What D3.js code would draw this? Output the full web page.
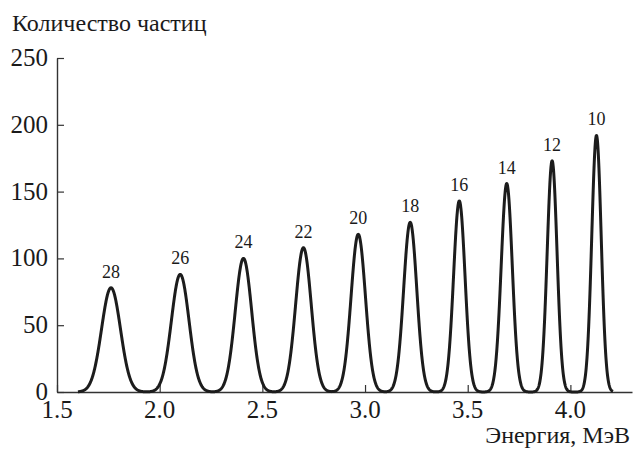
<!DOCTYPE html>
<html>
  <head>
    <meta charset="utf-8">
    <script src="https://d3js.org/d3.v7.min.js"></script>
    <style>
      body { margin: 0; background: #fff; }
    </style>
  </head>
  <body>
    <div id="my_chart"></div>
    <script>
        // peaks
        var peakLabels  = ["28", "26", "24", "22", "20", "18", "16", "14", "12", "10"];
        var peakEnergy  = [1.763, 2.100, 2.408, 2.700, 2.967, 3.220, 3.459, 3.690, 3.911, 4.127];
        var peakCounts  = [78, 88, 100, 108, 118, 127, 143, 156, 173, 192];
        var peakSigma   = [0.046, 0.043, 0.040, 0.038, 0.035, 0.032, 0.028, 0.027, 0.024, 0.023];
        var xTicks = [1.5, 2.0, 2.5, 3.0, 3.5, 4.0];
        var yTicks = [0, 50, 100, 150, 200, 250];

        var W = 633, H = 451;
        var margin = {top: 58, right: 1, bottom: 59, left: 57};
        var BASE = 18; // texts are set at 18px and scaled up

        var svg = d3.select("#my_chart")
            .append("svg")
                .attr("width", W)
                .attr("height", H);

        var x = d3.scaleLinear()
            .domain([1.5, 4.3])
            .range([margin.left, W - margin.right]);

        var y = d3.scaleLinear()
            .domain([0, 250])
            .range([H - margin.bottom, margin.top]);

        // axes, ticks pointing inward; labels drawn separately below
        var gx = svg.append("g")
            .attr("transform", "translate(0," + (H - margin.bottom) + ")")
            .call(d3.axisBottom(x).tickValues(xTicks).tickFormat("")
                .tickSizeInner(-7).tickSizeOuter(0));

        var gy = svg.append("g")
            .attr("transform", "translate(" + margin.left + ",0)")
            .call(d3.axisLeft(y).tickValues(yTicks).tickFormat("")
                .tickSizeInner(-7).tickSizeOuter(0));

        [gx, gy].forEach(function(g) {
            g.select(".domain").attr("stroke", "#333").attr("stroke-width", 1.4);
            g.selectAll(".tick line").attr("stroke", "#333").attr("stroke-width", 1.2);
            g.selectAll(".tick text").remove();
        });

        // the spectrum line: sum of the peaks
        var peaks = peakEnergy.map(function(e, i) {
            return {e: e, n: peakCounts[i], s: peakSigma[i], label: peakLabels[i]};
        });
        var e0 = peaks[0].e - 3.5 * peaks[0].s;
        var e1 = peaks[peaks.length - 1].e + 3.5 * peaks[peaks.length - 1].s;
        var pts = d3.range(e0, e1, 0.001).concat([e1]).map(function(e) {
            var v = 0;
            peaks.forEach(function(p) {
                var z = (e - p.e) / p.s;
                v += p.n * Math.exp(-0.5 * z * z);
            });
            return [e, v];
        });

        var line = d3.line()
            .x(function(d) { return x(d[0]); })
            .y(function(d) { return y(d[1]); });

        svg.append("path")
            .datum(pts)
            .attr("d", line)
            .attr("fill", "none")
            .attr("stroke", "#1c1c1c")
            .attr("stroke-width", 3)
            .attr("stroke-linejoin", "round");

        // text helper: serif at 18px, scaled to the wanted size
        var texts = svg.append("g");
        function label(px, py, str, size, anchor) {
            texts.append("g")
                .attr("transform", "translate(" + px + "," + py + ") scale(" + (size / BASE) + ")")
              .append("text")
                .attr("text-anchor", anchor || "start")
                .attr("font-family", "Liberation Serif")
                .attr("font-size", BASE)
                .attr("fill", "#1a1a1a")
                .text(str);
        }

        peaks.forEach(function(d) {
            label(x(d.e), y(d.n) - 10, d.label, 18, "middle");
        });

        xTicks.forEach(function(d) {
            label(x(d), H - margin.bottom + 26, d3.format(".1f")(d), 25, "middle");
        });

        yTicks.forEach(function(d) {
            label(margin.left - 9, y(d) + 8, String(d), 25, "end");
        });

        label(12, 31, "Количество частиц", 24, "start");
        label(630, 443, "Энергия, МэВ", 24, "end");
    </script>
  </body>
</html>
